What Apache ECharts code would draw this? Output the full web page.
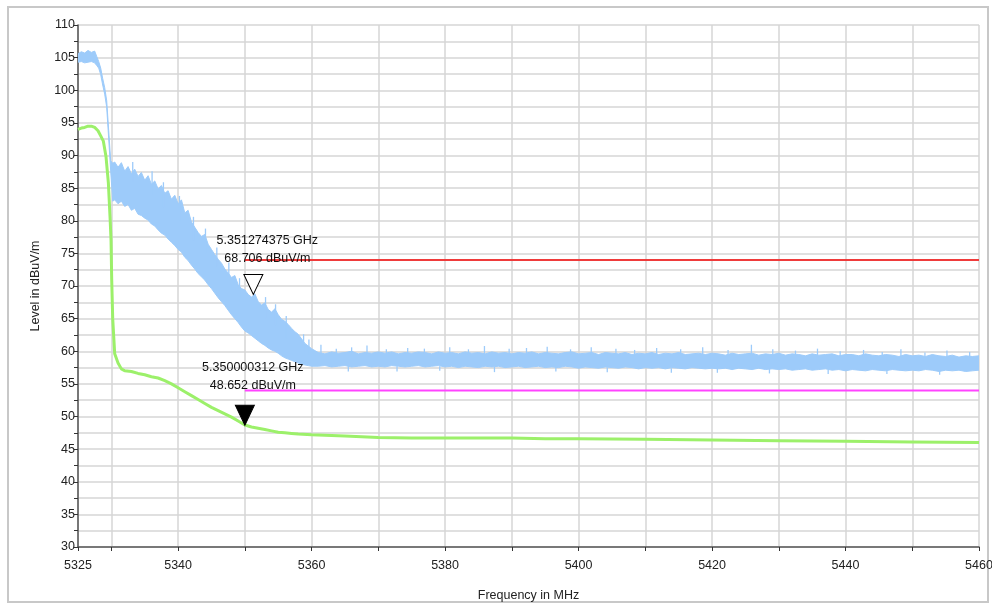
<!DOCTYPE html>
<html>
<head>
<meta charset="utf-8">
<script src="https://cdn.jsdelivr.net/npm/echarts@6/dist/echarts.min.js"></script>
<style>
html,body{margin:0;padding:0;background:#fff;}
#chart{width:992px;height:606px;}
</style>
</head>
<body>
<div id="chart"></div>
<script>
// ---- axis ticks / labels ----
const freqTickValues = [5325,5330,5340,5350,5360,5370,5380,5390,5400,5410,5420,5430,5440,5450,5460];
const freqLabelValues = [5325,5340,5360,5380,5400,5420,5440,5460];
const freqMin = 5325, freqMax = 5460;
const levelMin = 30, levelMax = 110;

// ---- blue trace (envelope of noisy peak trace), MHz / dBuV/m ----
const blueFreq = [
 5325,5325.5,5326,5326.5,5327,5327.5,5327.8,5328.1,5328.4,5328.7,5329,5329.3,5329.6,5329.9,5330.2,
 5330.5,5331,5331.5,5332,5332.5,5333,5333.5,5334,5334.5,5335,5335.5,5336,5336.5,5337,5337.5,5338,5338.5,5339,5339.5,5340,
 5340.5,5341,5341.5,5342,5342.5,5343,5343.5,5344,5344.5,5345,5345.5,5346,5346.5,5347,5347.5,5348,5348.5,5349,5349.5,5350,
 5350.5,5351,5351.5,5352,5352.5,5353,5353.5,5354,5354.5,5355,5355.5,5356,5356.5,5357,5357.5,5358,5358.5,5359,5359.5,5360,
 5361,5362,5363,5364,5365,5366,5367,5368,5369,5370,
 5371,5372,5373,5374,5375,5376,5377,5378,5379,5380,
 5381,5382,5383,5384,5385,5386,5387,5388,5389,5390,
 5391,5392,5393,5394,5395,5396,5397,5398,5399,5400,
 5401,5402,5403,5404,5405,5406,5407,5408,5409,5410,
 5411,5412,5413,5414,5415,5416,5417,5418,5419,5420,
 5421,5422,5423,5424,5425,5426,5427,5428,5429,5430,
 5431,5432,5433,5434,5435,5436,5437,5438,5439,5440,
 5441,5442,5443,5444,5445,5446,5447,5448,5449,5450,
 5451,5452,5453,5454,5455,5456,5457,5458,5459,5460
];
const blueHigh = [
 105.6,105.9,105.7,106.1,105.8,106.0,105.2,104.4,103.4,101.8,100.4,98.4,93.8,89.2,88.8,
 89.0,88.2,88.9,87.6,88.3,87.2,87.9,86.8,87.4,86.2,86.9,85.6,86.1,84.9,85.4,84.2,84.6,83.3,83.9,82.6,
 83.2,81.2,81.6,79.8,79.0,78.2,77.6,77.9,76.4,75.6,74.8,74.1,73.5,72.6,72.0,71.3,71.6,70.2,69.6,69.4,
 68.7,68.3,68.8,67.6,67.1,67.4,66.4,66.0,66.5,65.6,64.9,64.6,64.1,63.5,63.0,62.6,61.9,61.2,60.8,60.4,
 59.8,59.6,59.9,59.7,59.8,60.0,59.6,59.8,59.7,59.9,
 59.7,59.9,59.6,59.8,59.7,59.9,59.8,59.6,59.9,59.7,
 59.8,59.6,59.9,59.7,59.8,59.6,59.9,59.7,59.8,59.6,
 59.8,59.7,59.9,59.6,59.8,59.7,59.6,59.8,59.9,59.6,
 59.7,59.8,59.5,59.8,59.7,59.6,59.8,59.5,59.7,59.6,
 59.8,59.5,59.7,59.6,59.8,59.5,59.6,59.7,59.5,59.7,
 59.6,59.4,59.7,59.5,59.6,59.7,59.4,59.6,59.5,59.7,
 59.4,59.6,59.5,59.3,59.6,59.4,59.5,59.6,59.3,59.5,
 59.5,59.3,59.6,59.4,59.3,59.5,59.4,59.2,59.5,59.3,
 59.4,59.2,59.5,59.3,59.2,59.4,59.1,59.3,59.2,59.3
];
const blueLow = [
 104.3,104.4,104.2,104.3,104.4,104.2,103.8,103.4,102.4,100.8,99.4,97.4,92.6,87.6,83.0,
 83.2,82.6,83.0,82.2,82.5,81.6,81.9,81.0,80.8,80.4,80.1,79.5,79.2,78.6,78.1,77.8,77.2,76.7,76.2,75.6,
 75.2,74.4,73.9,73.2,72.6,71.9,71.4,70.9,70.2,69.6,68.9,68.2,67.6,67.0,66.3,65.6,65.0,64.4,63.7,63.1,
 62.8,62.4,62.0,61.6,61.2,60.9,60.5,60.2,60.0,59.7,59.3,59.0,58.8,58.6,58.4,58.2,58.0,57.9,57.8,57.7,
 57.7,57.8,57.6,57.7,57.8,57.6,57.7,57.8,57.6,57.7,
 57.6,57.8,57.7,57.6,57.7,57.8,57.6,57.7,57.8,57.6,
 57.7,57.5,57.7,57.6,57.5,57.7,57.6,57.7,57.5,57.6,
 57.7,57.5,57.6,57.7,57.5,57.6,57.5,57.7,57.6,57.4,
 57.6,57.5,57.4,57.6,57.5,57.4,57.6,57.5,57.3,57.5,
 57.4,57.5,57.3,57.5,57.4,57.3,57.5,57.4,57.3,57.4,
 57.3,57.4,57.2,57.4,57.3,57.2,57.4,57.2,57.3,57.2,
 57.3,57.1,57.2,57.3,57.1,57.2,57.3,57.1,57.2,57.0,
 57.2,57.1,57.0,57.2,57.1,57.0,57.2,57.1,57.0,57.1,
 57.0,57.2,57.1,56.9,57.1,57.0,57.1,56.9,57.0,57.1
];
// isolated noise spikes on the blue trace
const spikeFreq = [
 5333.2,5336.1,5337.8,5340.2,5342.3,5344.1,5345.8,5347.6,5349.2,5353.1,5354.6,5356.2,5358.8,5359.6,
 5361.4,5363.7,5366.0,5368.3,5371.2,5374.4,5376.9,5380.7,5383.5,5385.9,5389.6,5392.2,5395.3,5398.8,
 5401.9,5405.6,5408.4,5411.7,5415.3,5418.6,5422.4,5425.9,5429.1,5432.5,5435.8,5439.2,5442.7,5445.5,
 5448.3,5451.9,5455.2,5458.6,
 5365.5,5372.8,5379.2,5387.4,5396.6,5404.3,5413.9,5420.8,5428.6,5437.4,5446.2,5454.1
];
const spikeLow = [
 86,84,82,80,77,75,73,70,68,65,64,62,60,59.5,
 59.5,59.5,59.5,59.5,59.5,59.5,59.5,59.5,59.5,59.5,59.5,59.5,59.5,59.5,
 59.5,59.5,59.4,59.4,59.4,59.4,59.3,59.3,59.3,59.2,59.2,59.2,59.1,59.1,
 59.0,59.0,59.0,58.9,
 56.9,56.9,57.0,56.8,56.9,56.8,56.7,56.7,56.6,56.5,56.5,56.4
];
const spikeHigh = [
 89.0,87.6,85.9,83.8,80.6,78.8,75.9,73.6,71.2,68.3,67.2,65.4,62.6,61.8,
 61.0,60.4,60.6,60.9,60.3,60.5,60.4,60.6,60.3,60.8,60.4,60.5,60.7,60.3,
 60.6,60.4,60.2,60.5,60.3,60.6,60.2,61.0,60.3,60.1,60.4,60.0,60.2,59.9,
 60.3,59.8,60.1,59.9,
 57.8,57.7,57.7,57.6,57.6,57.5,57.4,57.4,57.3,57.2,57.1,57.1
];

// ---- green trace (average) ----
const greenFreq = [
 5325,5325.5,5326,5326.5,5327,5327.5,5328,5328.4,5328.8,5329.2,5329.55,5329.8,5329.95,5330.05,5330.2,5330.5,5331,5331.5,5332,
 5333,5334,5335,5336,5337,5338,5339,5340,5341,5342,5343,5344,5345,5346,5347,5348,5349,5350,
 5351,5352,5353,5354,5355,5356,5357,5358,5360,5365,5370,5375,5380,5385,5390,5395,5400,5410,5420,5430,5440,5450,5460
];
const greenLevel = [
 94.0,94.2,94.3,94.5,94.5,94.3,93.8,93.0,92.2,89.8,85.8,80.6,77.0,71.0,65.0,59.6,58.2,57.3,57.0,
 56.9,56.6,56.4,56.1,55.9,55.5,55.0,54.4,53.8,53.2,52.6,52.0,51.4,50.9,50.4,49.9,49.3,48.7,
 48.4,48.2,48.0,47.8,47.6,47.5,47.4,47.3,47.2,47.0,46.8,46.7,46.7,46.7,46.7,46.6,46.6,46.5,46.4,46.3,46.2,46.1,46.0
];

// ---- limit lines ----
const limitFreq = [5350, 5460];
const peakLimit = [74, 74];
const avgLimit = [54, 54];

// ---- markers ----
const markerFreq = [5351.274375, 5350.000312];
const markerLevel = [68.706, 48.652];
const markerText = [['5.351274375 GHz','68.706 dBuV/m'], ['5.350000312 GHz','48.652 dBuV/m']];

const FONT = "'Liberation Sans', Arial, sans-serif";
const gridColor = '#d6d6d6';
const BLUE = '#9dcbfa';
const GREEN = '#9cf06a';
const FS = 12.5;

const chart = echarts.init(document.getElementById('chart'), null, {renderer: 'canvas'});

const option = {
  backgroundColor: '#ffffff',
  animation: false,
  textStyle: {fontFamily: FONT},
  graphic: [{
    type: 'rect', silent: true, z: -10,
    shape: {x: 8, y: 7, width: 980, height: 595},
    style: {fill: 'none', stroke: '#c8c8c8', lineWidth: 2}
  }],
  grid: {left: 78, top: 25, right: 13, bottom: 59, containLabel: false, outerBoundsMode: 'none'},
  xAxis: {
    type: 'value', min: freqMin, max: freqMax, interval: 5,
    name: 'Frequency in MHz', nameLocation: 'middle', nameGap: 42,
    nameTextStyle: {fontSize: FS, color: '#222', fontFamily: FONT},
    axisLine: {show: true, onZero: false, lineStyle: {color: '#555', width: 1.5}},
    axisTick: {show: true, length: 4, customValues: freqTickValues, lineStyle: {color: '#333'}},
    axisLabel: {show: true, customValues: freqLabelValues, formatter: v => String(v), fontSize: FS, color: '#222', margin: 12, fontFamily: FONT},
    splitLine: {show: true, lineStyle: {color: gridColor, width: 1.5}}
  },
  yAxis: {
    type: 'value', min: levelMin, max: levelMax, interval: 5,
    name: 'Level in dBuV/m', nameLocation: 'middle', nameGap: 36, nameRotate: 90,
    nameTextStyle: {fontSize: FS, color: '#222', fontFamily: FONT},
    axisLine: {show: true, lineStyle: {color: '#555', width: 1.5}},
    axisTick: {show: true, length: 4, lineStyle: {color: '#333'}},
    minorTick: {show: true, splitNumber: 2, length: 4, lineStyle: {color: '#333'}},
    axisLabel: {fontSize: FS, color: '#222', margin: 3, fontFamily: FONT},
    splitLine: {show: true, lineStyle: {color: gridColor, width: 1.5}},
    minorSplitLine: {show: true, lineStyle: {color: gridColor, width: 1.5}}
  },
  series: [
    {
      name: 'Peak', type: 'custom', coordinateSystem: 'cartesian2d',
      silent: true, z: 2, clip: true,
      data: [[blueFreq[0], blueLow[0]]],
      encode: {x: 0, y: 1},
      renderItem: function (params, api) {
        const pts = [];
        for (let i = 0; i < blueFreq.length; i++) pts.push(api.coord([blueFreq[i], blueHigh[i]]));
        for (let i = blueFreq.length - 1; i >= 0; i--) pts.push(api.coord([blueFreq[i], blueLow[i]]));
        return {type: 'polygon', shape: {points: pts}, style: {fill: BLUE, stroke: BLUE, lineWidth: 1}};
      }
    },
    {
      name: 'PeakSpikes', type: 'custom', coordinateSystem: 'cartesian2d',
      silent: true, z: 2, clip: true,
      data: spikeFreq.map((f, i) => [f, spikeLow[i], spikeHigh[i]]),
      encode: {x: 0, y: [1, 2]},
      renderItem: function (params, api) {
        const a = api.coord([api.value(0), api.value(1)]);
        const b = api.coord([api.value(0), api.value(2)]);
        return {type: 'line', shape: {x1: a[0], y1: a[1], x2: b[0], y2: b[1]}, style: {stroke: BLUE, lineWidth: 1.3}};
      }
    },
    {
      name: 'Average', type: 'line', z: 3, silent: true, symbol: 'none',
      data: greenFreq.map((f, i) => [f, greenLevel[i]]),
      lineStyle: {color: GREEN, width: 3},
      markPoint: {
        silent: true,
        data: [
          {coord: [markerFreq[1], markerLevel[1]], symbol: 'triangle', symbolRotate: 180, symbolSize: [19, 20], symbolOffset: [0, '-50%'],
           itemStyle: {color: '#000', borderColor: '#000', borderWidth: 1},
           label: {show: true, position: 'top', distance: 10, offset: [8, 0], formatter: markerText[1].join('\n'), color: '#111', fontSize: FS, lineHeight: 18, fontFamily: FONT}},
        ]
      }
    },
    {
      name: 'PeakLimit', type: 'line', z: 4, silent: true, symbol: 'none',
      data: limitFreq.map((f, i) => [f, peakLimit[i]]),
      lineStyle: {color: '#ef3b3b', width: 2}
    },
    {
      name: 'AvgLimit', type: 'line', z: 4, silent: true, symbol: 'none',
      data: limitFreq.map((f, i) => [f, avgLimit[i]]),
      lineStyle: {color: '#ff44ff', width: 2},
      markPoint: {
        silent: true,
        data: [
          {coord: [markerFreq[0], markerLevel[0]], symbol: 'triangle', symbolRotate: 180, symbolSize: [19, 20], symbolOffset: [0, '-50%'],
           itemStyle: {color: '#ffffff', borderColor: '#000', borderWidth: 1},
           label: {show: true, position: 'top', distance: 6, offset: [14, 0], formatter: markerText[0].join('\n'), color: '#111', fontSize: FS, lineHeight: 18, fontFamily: FONT}}
        ]
      }
    }
  ]
};
chart.setOption(option);
</script>
</body>
</html>
